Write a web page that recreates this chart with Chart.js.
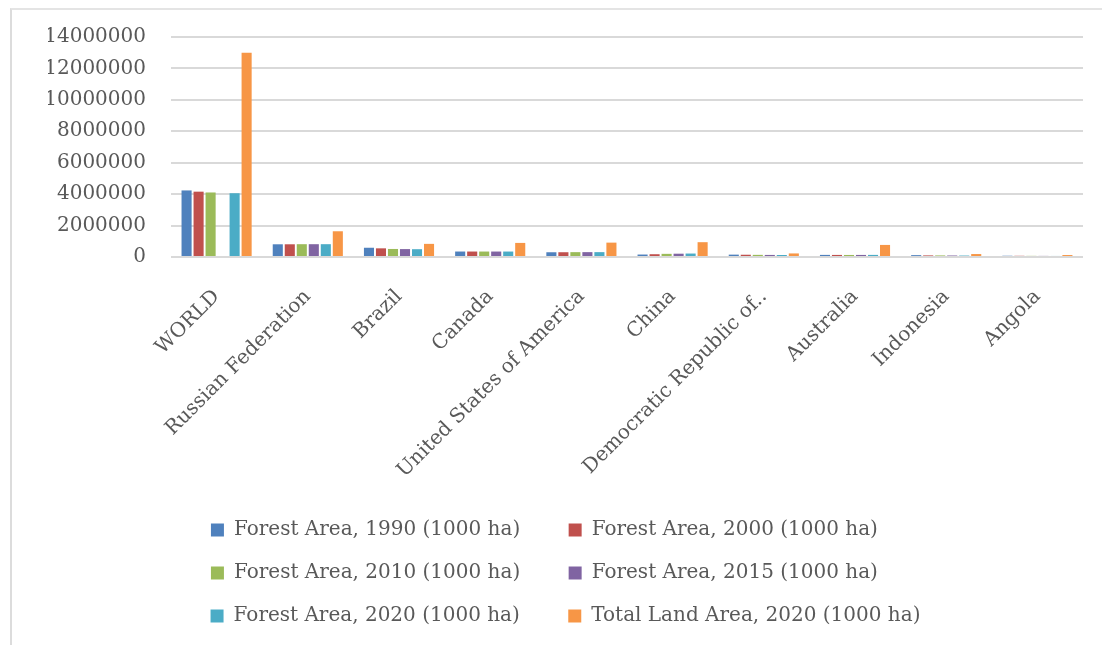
<!DOCTYPE html>
<html><head><meta charset="utf-8">
<script src="https://cdn.jsdelivr.net/npm/chart.js@4.4.0/dist/chart.umd.min.js"></script>
<style>
html,body{margin:0;padding:0;background:#fff;overflow:hidden}
#wrap{position:relative;width:1102px;height:645px}
#frame{position:absolute;left:10px;top:8px;width:1200px;height:700px;border-left:2px solid #dcdcdc;border-top:2px solid #e4e4e4;box-sizing:border-box}
canvas{position:absolute;left:0;top:0}
</style></head><body>
<div id="wrap"><div id="frame"></div><canvas id="c" width="1102" height="645"></canvas></div>
<script>
const categories = ['WORLD','Russian Federation','Brazil','Canada','United States of America','China','Democratic Republic of..','Australia','Indonesia','Angola'];
const seriesNames = ['Forest Area, 1990 (1000 ha)','Forest Area, 2000 (1000 ha)','Forest Area, 2010 (1000 ha)','Forest Area, 2015 (1000 ha)','Forest Area, 2020 (1000 ha)','Total Land Area, 2020 (1000 ha)'];
const forest1990 = [4236433, 808950, 588898, 348273, 302450, 157141, 150629, 133882, 118545, 79263];
const forest2000 = [4158050, 809269, 551089, 347802, 303536, 177001, 143904, 131814, 101280, 76182];
const forest2010 = [4106317, 815136, 511581, 347322, 308720, 200610, 136092, 129546, 99659, 72185];
const forest2015 = [null, 814931, 503470, 347133, 309795, 210302, 131645, 131423, 95550, 69863];
const forest2020 = [4058931, 815312, 496620, 346928, 309795, 219978, 126155, 134005, 92133, 66607];
const land2020 = [13003000, 1637687, 835814, 896559, 914742, 942470, 226705, 768230, 187752, 124670];
const yTickValues = [0, 2000000, 4000000, 6000000, 8000000, 10000000, 12000000, 14000000];
const colors = ['#4F81BD','#C0504D','#9BBB59','#8064A2','#4BACC6','#F79646'];

const FONT = '"DejaVu Serif", serif';
const FS = 20;
const LEG_PAD = 23;
const TEXT_COLOR = '#595959';

// legend column alignment (text padding so two columns line up)
const mctx = document.createElement('canvas').getContext('2d');
mctx.font = FS + 'px ' + FONT;
function padTo(t, target){
  let s = t;
  while (mctx.measureText(s + ' ').width <= target) s += ' ';
  while (mctx.measureText(s + '\u2009').width <= target) s += '\u2009';
  return s;
}
const BOX = 13;
const half = FS / 2;
const col1Target = 360 - LEG_PAD - BOX - half;
let col2Target = 0;
seriesNames.forEach((n, i) => { if (i % 2 === 1) col2Target = Math.max(col2Target, mctx.measureText(n).width); });
const legendTexts = seriesNames.map((n, i) => i % 2 === 0 ? padTo(n, col1Target) : padTo(n, col2Target));
const w1 = BOX + half + mctx.measureText(legendTexts[0]).width;
const w2 = BOX + half + mctx.measureText(legendTexts[1]).width;
const lineW = w1 + LEG_PAD + w2 + LEG_PAD;
const CHART_RIGHT = 1083, CHART_LEFT = 171, CHART_TOP = 37, CHART_BOTTOM = 257;
const padRight = 1102 - CHART_RIGHT;
let padLeft = Math.round(2 * 211 - LEG_PAD - CHART_RIGHT + lineW);
padLeft = Math.max(0, Math.min(150, padLeft));

const allSeries = [forest1990, forest2000, forest2010, forest2015, forest2020, land2020];
const datasets = allSeries.map((d, i) => ({
  label: seriesNames[i],
  data: d,
  backgroundColor: colors[i],
  borderWidth: 0,
  categoryPercentage: 0.79,
  barPercentage: 0.84
}));

new Chart(document.getElementById('c'), {
  type: 'bar',
  data: { labels: categories, datasets },
  options: {
    responsive: false,
    animation: false,
    layout: { padding: { top: CHART_TOP, right: padRight, bottom: 9, left: padLeft } },
    plugins: {
      tooltip: { enabled: false },
      legend: {
        position: 'bottom',
        labels: {
          boxWidth: BOX, boxHeight: BOX,
          padding: LEG_PAD,
          color: TEXT_COLOR,
          font: { family: FONT, size: FS },
          generateLabels(chart) {
            const items = Chart.defaults.plugins.legend.labels.generateLabels(chart);
            items.forEach((it, i) => { it.text = legendTexts[i]; it.lineWidth = 0; });
            return items;
          }
        }
      }
    },
    scales: {
      x: {
        grid: { display: false },
        border: { display: false },
        ticks: {
          color: TEXT_COLOR, font: { family: FONT, size: FS },
          minRotation: 45, maxRotation: 45, autoSkip: false, padding: 20
        },
        afterFit(s) { s.height = 497 - CHART_BOTTOM; }
      },
      y: {
        min: 0, max: 14000000,
        border: { display: false },
        grid: { color: '#d9d9d9', lineWidth: 2, drawTicks: false },
        ticks: {
          color: TEXT_COLOR, font: { family: FONT, size: FS }, padding: 25,
          callback: v => String(v)
        },
        afterBuildTicks(s) { s.ticks = yTickValues.map(v => ({ value: v })); },
        afterFit(s) { s.width = CHART_LEFT - padLeft; }
      }
    }
  }
});
</script>
</body></html>
